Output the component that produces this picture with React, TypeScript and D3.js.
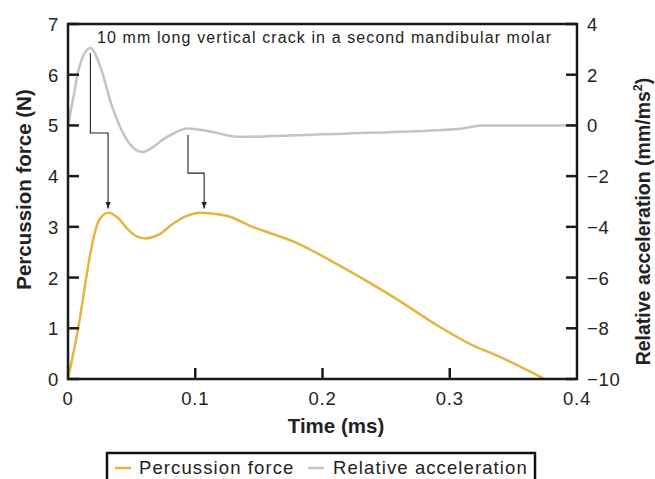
import React from 'react';
import * as d3 from 'd3';

// Time (ms) samples and values
const forceTime = [0, 0.008, 0.0174, 0.0213, 0.0253, 0.0318, 0.0396, 0.0475, 0.054, 0.0605, 0.071, 0.0814, 0.0919, 0.105, 0.118, 0.126, 0.143, 0.18, 0.216, 0.2555, 0.292, 0.316, 0.339, 0.3745];
const forceValues = [0, 1.0, 2.45, 2.91, 3.17, 3.28, 3.17, 2.94, 2.81, 2.77, 2.84, 3.04, 3.2, 3.28, 3.25, 3.21, 3.02, 2.68, 2.2, 1.62, 1.03, 0.69, 0.44, 0];

const accelTime = [0, 0.0043, 0.0082, 0.0176, 0.0255, 0.0347, 0.0464, 0.058, 0.078, 0.094, 0.11, 0.134, 0.2, 0.26, 0.31, 0.325, 0.4];
const accelValues = [0, 1.12, 2.18, 3.05, 2.3, 0.74, -0.58, -1.05, -0.45, -0.12, -0.22, -0.45, -0.35, -0.25, -0.12, 0, 0];

const xTicks = [0, 0.1, 0.2, 0.3, 0.4];
const leftTicks = [0, 1, 2, 3, 4, 5, 6, 7];
const rightTicks = [-10, -8, -6, -4, -2, 0, 2, 4];

// annotation arrows: [time, force] path points (left axis units)
const arrowPaths = [
  [[0.0176, 6.43], [0.0176, 4.85], [0.0315, 4.85], [0.0315, 3.36]],
  [[0.0943, 4.81], [0.0943, 4.06], [0.107, 4.06], [0.107, 3.36]],
];

const title = '10 mm long vertical crack in a second mandibular molar';

const FONT = '"Liberation Sans", Arial, Helvetica, sans-serif';
const ORANGE = '#E5B443';
const GRAY = '#C3C3C6';
const INK = '#222';

export default function App() {
  const W = 655, H = 479;
  const m = { left: 68, right: 577, top: 24, bottom: 379 };

  const x = d3.scaleLinear().domain([0, 0.4]).range([m.left, m.right]);
  const yL = d3.scaleLinear().domain([0, 7]).range([m.bottom, m.top]);
  const yR = d3.scaleLinear().domain([-10, 4]).range([m.bottom, m.top]);

  const forceLine = d3.line<number>()
    .x((d, i) => x(forceTime[i]))
    .y(d => yL(d))
    .curve(d3.curveMonotoneX);
  const accelLine = d3.line<number>()
    .x((d, i) => x(accelTime[i]))
    .y(d => yR(d))
    .curve(d3.curveMonotoneX);
  const arrowLine = d3.line<number[]>().x(d => x(d[0])).y(d => yL(d[1]));

  return (
    <svg width={W} height={H} style={{ position: 'absolute', left: 0, top: 0 }} fontFamily={FONT}>
      <defs>
        <marker id="arr" viewBox="0 0 10 10" refX="10" refY="5" markerWidth="7" markerHeight="7" orient="auto" markerUnits="userSpaceOnUse">
          <path d="M0,1 L10,5 L0,9 Z" fill={INK} />
        </marker>
      </defs>

      {/* curves */}
      <path d={accelLine(accelValues) || ''} fill="none" stroke={GRAY} strokeWidth={2.5} />
      <path d={forceLine(forceValues) || ''} fill="none" stroke={ORANGE} strokeWidth={2.5} />

      {/* annotation arrows */}
      {arrowPaths.map((p, i) => (
        <path key={i} d={arrowLine(p) || ''} fill="none" stroke={INK} strokeWidth={1.1} markerEnd="url(#arr)" />
      ))}
      <text x={97} y={43} fontSize={16} letterSpacing={1.1} fill={INK}>{title}</text>

      {/* frame: left, bottom, right, top */}
      <path d={`M${m.left},${m.top} V${m.bottom} H${m.right} V${m.top} Z`} fill="none" stroke="#1a1a1a" strokeWidth={2.5} />

      {/* left axis ticks */}
      {leftTicks.map(t => (
        <g key={'l' + t}>
          <line x1={m.left} x2={m.left + 11} y1={yL(t)} y2={yL(t)} stroke="#1a1a1a" strokeWidth={2.5} />
          <text x={59} y={yL(t) + 7} fontSize={18.5} letterSpacing={0.7} textAnchor="end" fill={INK}>{t}</text>
        </g>
      ))}
      {/* right axis ticks */}
      {rightTicks.map(t => (
        <g key={'r' + t}>
          <line x1={m.right - 11} x2={m.right} y1={yR(t)} y2={yR(t)} stroke="#1a1a1a" strokeWidth={2.5} />
          <text x={587} y={yR(t) + 7} fontSize={18.5} letterSpacing={0.7} textAnchor="start" fill={INK}>{t < 0 ? '\u2212' + Math.abs(t) : t}</text>
        </g>
      ))}
      {/* x axis ticks */}
      {xTicks.map(t => (
        <g key={'x' + t}>
          {t > 0 && t < 0.4 && (
            <line x1={x(t)} x2={x(t)} y1={m.bottom} y2={m.bottom - 11} stroke="#1a1a1a" strokeWidth={2.5} />
          )}
          <text x={x(t)} y={405} fontSize={18.5} letterSpacing={0.7} textAnchor="middle" fill={INK}>{t}</text>
        </g>
      ))}

      {/* axis titles */}
      <text x={336} y={433} fontSize={20.5} fontWeight="bold" textAnchor="middle" fill={INK}>Time (ms)</text>
      <text transform="translate(31,189.5) rotate(-90)" fontSize={20.5} fontWeight="bold" textAnchor="middle" fill={INK}>Percussion force (N)</text>
      <text transform="translate(650,221.5) rotate(-90)" fontSize={19.5} fontWeight="bold" textAnchor="middle" fill={INK}>
        Relative acceleration (mm/ms<tspan fontSize={12.5} dy={-8}>2</tspan><tspan dy={8}>)</tspan>
      </text>

      {/* legend */}
      <rect x={107} y={453} width={428} height={40} fill="#fff" stroke="#111" strokeWidth={2.5} />
      <line x1={115} x2={131} y1={468} y2={468} stroke={ORANGE} strokeWidth={2.5} />
      <text x={139} y={474} fontSize={18.5} letterSpacing={1.1} fill={INK}>Percussion force</text>
      <line x1={308} x2={324} y1={468} y2={468} stroke={GRAY} strokeWidth={2.5} />
      <text x={333} y={474} fontSize={18.5} letterSpacing={1.1} fill={INK}>Relative acceleration</text>
    </svg>
  );
}
